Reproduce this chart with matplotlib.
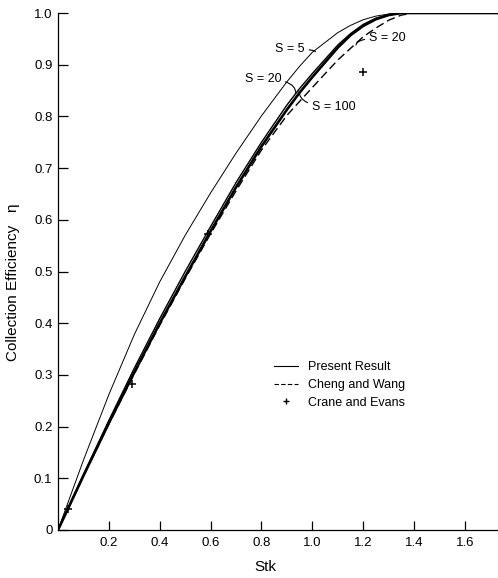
import matplotlib
matplotlib.use("Agg")
import matplotlib.pyplot as plt
from matplotlib.lines import Line2D

plt.rcParams['font.family'] = ['Liberation Sans', 'DejaVu Sans']

# ---- data ----
stk = [0.0, 0.10, 0.20, 0.30, 0.40, 0.50, 0.60, 0.70, 0.80, 0.90, 0.95,
       1.00, 1.10, 1.15, 1.20, 1.25, 1.30, 1.35, 1.73]
eta_s5 = [0.0, 0.135, 0.262, 0.378, 0.48, 0.57, 0.652, 0.729, 0.801, 0.867,
          0.897, 0.924, 0.962, 0.976, 0.987, 0.994, 0.998, 1.0, 1.0]
eta_s20 = [0.0, 0.107, 0.212, 0.313, 0.409, 0.50, 0.587, 0.672, 0.750, 0.822,
           0.854, 0.883, 0.938, 0.960, 0.978, 0.990, 0.997, 1.0, 1.0]
eta_s100 = [0.0, 0.105, 0.207, 0.305, 0.40, 0.49, 0.578, 0.663, 0.742, 0.813,
            0.846, 0.876, 0.933, 0.957, 0.975, 0.988, 0.996, 1.0, 1.0]

stk_cw = [0.0, 0.10, 0.20, 0.30, 0.40, 0.50, 0.60, 0.70, 0.80, 0.90,
          1.00, 1.10, 1.20, 1.25, 1.30, 1.35, 1.40]
eta_cw = [0.0, 0.104, 0.205, 0.302, 0.396, 0.486, 0.573, 0.656, 0.735, 0.802,
          0.856, 0.909, 0.954, 0.971, 0.986, 0.996, 1.0]

stk_ce = [0.04, 0.29, 0.59, 1.20]
eta_ce = [0.04, 0.283, 0.573, 0.886]

xticks = [0.2, 0.4, 0.6, 0.8, 1.0, 1.2, 1.4, 1.6]
xticklabels = ["0.2", "0.4", "0.6", "0.8", "1.0", "1.2", "1.4", "1.6"]
yticks = [0, 0.1, 0.2, 0.3, 0.4, 0.5, 0.6, 0.7, 0.8, 0.9, 1.0]
yticklabels = ["0", "0.1", "0.2", "0.3", "0.4", "0.5", "0.6", "0.7", "0.8", "0.9", "1.0"]

legend_labels = ["Present Result", "Cheng and Wang", "Crane and Evans"]

# ---- figure ----
fig = plt.figure(figsize=(4.98, 5.78), dpi=100)
ax = fig.add_axes([58/498, 48/578, 440/498, 517/578])

ax.plot(stk, eta_s5, color='black', lw=0.7)
ax.plot(stk, eta_s20, color='black', lw=1.0)
ax.plot(stk, eta_s100, color='black', lw=1.9)
ax.plot(stk_cw, eta_cw, color='black', lw=1.0, dashes=(6, 3))
ax.plot(stk_ce, eta_ce, linestyle='none', marker='+', color='black',
        markersize=6, markeredgewidth=1.1)

ax.set_xlim(0, 1.73)
ax.set_ylim(0, 1.0)

for s in ['top', 'right']:
    ax.spines[s].set_visible(False)
for s in ['left', 'bottom']:
    ax.spines[s].set_linewidth(0.9)

ax.set_xticks(xticks)
ax.set_xticklabels(xticklabels)
ax.set_yticks(yticks)
ax.set_yticklabels(yticklabels)
ax.tick_params(axis='x', direction='in', length=6.5, width=0.9, pad=5, labelsize=9.5)
ax.tick_params(axis='y', direction='in', length=7.5, width=0.9, pad=4, labelsize=9.5)

ax.set_xlabel("Stk", fontsize=11)
ax.xaxis.set_label_coords(207/440, -30/517)
ax.set_ylabel("Collection Efficiency   η", fontsize=11)
ax.yaxis.set_label_coords(-38/440, 0.48)

# curve labels with leader hooks
hook = dict(arrowstyle='-', color='black', lw=0.8, shrinkA=1, shrinkB=0,
            connectionstyle='angle3,angleA=0,angleB=90')
ax.annotate("S = 5", xy=(1.012, 0.925), xytext=(0.971, 0.930),
            fontsize=9, ha='right', va='center', arrowprops=hook)
ax.annotate("S = 20", xy=(0.935, 0.845), xytext=(0.878, 0.872),
            fontsize=9, ha='right', va='center', arrowprops=hook)
ax.annotate("S = 100", xy=(0.948, 0.849), xytext=(0.997, 0.819),
            fontsize=9, ha='left', va='center', arrowprops=hook)
ax.annotate("S = 20", xy=(1.172, 0.938), xytext=(1.222, 0.952),
            fontsize=9, ha='left', va='center', arrowprops=hook)

handles = [Line2D([], [], color='black', lw=0.8),
           Line2D([], [], color='black', lw=0.8, dashes=(4, 2)),
           Line2D([], [], linestyle='none', marker='+', color='black',
                  markersize=5, markeredgewidth=1.0)]
leg = ax.legend(handles, legend_labels, frameon=False, fontsize=9,
                loc='upper left', bbox_to_anchor=(268/498, 1 - 355/578),
                bbox_transform=fig.transFigure, handlelength=1.9,
                handletextpad=0.8, labelspacing=0.45, borderpad=0)

fig.savefig("out.png", dpi=100)
